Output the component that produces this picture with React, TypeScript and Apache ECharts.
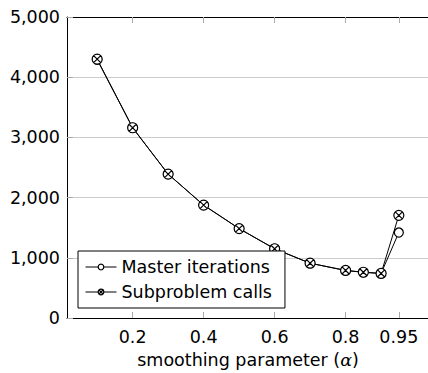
import React, { useEffect, useRef } from "react";
import * as echarts from "echarts";

const alphas = [0.1, 0.2, 0.3, 0.4, 0.5, 0.6, 0.7, 0.8, 0.85, 0.9, 0.95];
const masterIterations = [4290, 3160, 2390, 1875, 1485, 1150, 910, 790, 760, 740, 1420];
const subproblemCalls = [4300, 3160, 2390, 1875, 1485, 1150, 910, 790, 760, 740, 1705];
const xTickValues = [0.2, 0.4, 0.6, 0.8, 0.95];
const seriesNames = ["Master iterations", "Subproblem calls"];

const FONT = "DejaVu Sans";
const OTIMES =
  "path://M10 0A10 10 0 1 1 -10 0A10 10 0 1 1 10 0ZM-7.07 -7.07L7.07 7.07M-7.07 7.07L7.07 -7.07";

const markerStyle = { color: "#fff", borderColor: "#000", borderWidth: 1.2 };

export default function App() {
  const ref = useRef<HTMLDivElement>(null);
  useEffect(() => {
    const chart = echarts.init(ref.current!, null, { renderer: "svg" });
    const xmin = 0.015;
    const xmax = 1.035;
    chart.setOption({
      animation: false,
      backgroundColor: "#fff",
      textStyle: { fontFamily: FONT },
      grid: {
        left: 67,
        top: 17,
        width: 362,
        height: 301,
        containLabel: false,
        outerBoundsMode: "none",
      },
      legend: {
        orient: "vertical",
        left: 78,
        top: 251,
        data: seriesNames.map((n) => ({
          name: n,
          itemStyle: markerStyle,
          lineStyle: { color: "#000", width: 1 },
        })),
        backgroundColor: "#fff",
        borderColor: "#000",
        borderWidth: 1,
        borderRadius: 0,
        padding: [6, 13, 6, 7],
        itemWidth: 31,
        itemHeight: 7,
        itemGap: 5,
        textStyle: { fontFamily: FONT, fontSize: 17.5, color: "#000", lineHeight: 20 },
        z: 10,
      },
      xAxis: [
        {
          type: "value",
          min: xmin,
          max: xmax,
          position: "bottom",
          axisLine: { show: true, onZero: false, lineStyle: { color: "#000", width: 1 } },
          axisTick: {
            show: true,
            inside: true,
            length: 6,
            customValues: xTickValues,
            lineStyle: { color: "#aaa" },
          },
          axisLabel: {
            customValues: xTickValues,
            fontFamily: FONT,
            fontSize: 17.5,
            color: "#000",
            margin: 10,
            formatter: (v: number) => String(v),
          },
          splitLine: { show: false },
          name: "smoothing parameter ({a|α})",
          nameLocation: "middle",
          nameGap: 33,
          nameTextStyle: {
            fontFamily: FONT,
            fontSize: 17.5,
            color: "#000",
            rich: {
              a: { fontFamily: "DejaVu Serif", fontStyle: "italic", fontSize: 17.5, color: "#000" },
            },
          },
        },
        {
          type: "value",
          min: xmin,
          max: xmax,
          position: "top",
          axisLine: { show: true, onZero: false, lineStyle: { color: "#000", width: 1 } },
          axisTick: {
            show: true,
            inside: true,
            length: 6,
            customValues: xTickValues,
            lineStyle: { color: "#aaa" },
          },
          axisLabel: { show: false },
          splitLine: { show: false },
        },
      ],
      yAxis: {
        type: "value",
        min: 0,
        max: 5000,
        interval: 1000,
        axisLine: { show: true, lineStyle: { color: "#000", width: 1 } },
        axisTick: { show: true, inside: true, length: 6, lineStyle: { color: "#aaa" } },
        axisLabel: {
          fontFamily: FONT,
          fontSize: 17.5,
          color: "#000",
          margin: 7,
          formatter: (v: number) => v.toLocaleString("en-US"),
        },
        splitLine: { show: true, lineStyle: { color: "#ccc", width: 1 } },
      },
      series: [
        {
          name: seriesNames[0],
          type: "line",
          data: alphas.map((a, i) => [a, masterIterations[i]]),
          symbol: "circle",
          symbolSize: 9,
          itemStyle: markerStyle,
          lineStyle: { color: "#000", width: 1 },
          z: 3,
        },
        {
          name: seriesNames[1],
          type: "line",
          data: alphas.map((a, i) => [a, subproblemCalls[i]]),
          symbol: OTIMES,
          symbolSize: 10,
          itemStyle: markerStyle,
          lineStyle: { color: "#000", width: 1 },
          z: 4,
        },
      ],
    });
    return () => chart.dispose();
  }, []);
  return (
    <div
      ref={ref}
      style={{ position: "fixed", left: 0, top: 0, width: 428, height: 373 }}
    />
  );
}
